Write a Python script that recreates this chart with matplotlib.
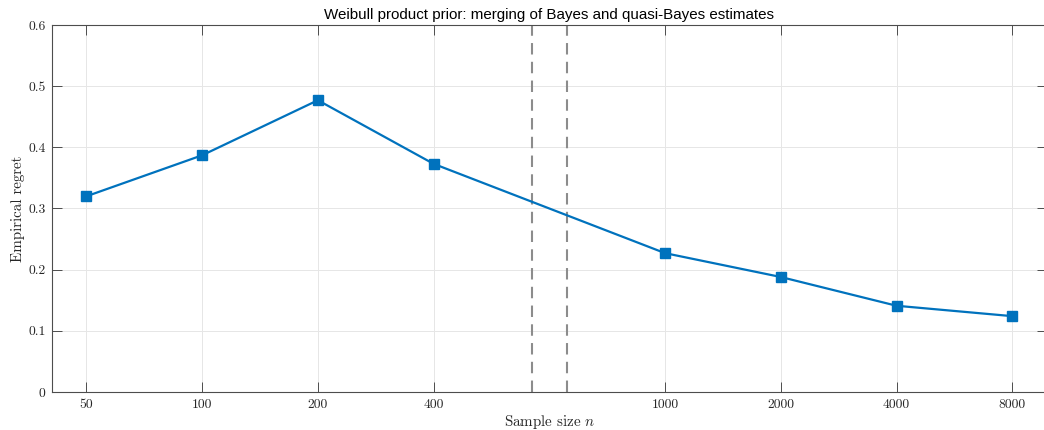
import numpy as np
import matplotlib
matplotlib.use("Agg")
import matplotlib.pyplot as plt

# Sample sizes and empirical regret
sample_sizes = [50, 100, 200, 400, 1000, 2000, 4000, 8000]
regret = [0.320, 0.387, 0.477, 0.373, 0.227, 0.188, 0.141, 0.124]

# Equally spaced positions with a gap between 400 and 1000 (broken axis)
positions = np.array([1, 2, 3, 4, 6, 7, 8, 9])
break_marks = [4.85, 5.15]

plt.rcParams['mathtext.fontset'] = 'cm'
plt.rcParams['axes.formatter.use_mathtext'] = True
serif = 'cmr10'
axis_col = '#4d4d4d'
text_col = '#262626'

fig = plt.figure(figsize=(10.44, 4.30), dpi=100)
# the right edge of the box falls just outside the picture, as in the original
ax = fig.add_axes([51.7 / 1044, 38 / 430, (1047 - 51.7) / 1044, (392 - 25) / 430])

ax.plot(positions, regret, color='#0072BD', linewidth=1.6, marker='s',
        markersize=6.5, markerfacecolor='#0072BD', markeredgecolor='#0072BD', zorder=3)

for xb in break_marks:
    ax.axvline(xb, color='#8c8c8c', linestyle=(0, (5.5, 3.5)), linewidth=1.5, zorder=2)

ax.set_xlim(0.7, 9.3)
ax.set_ylim(0, 0.6)
ax.set_xticks(positions)
ax.set_xticklabels([str(n) for n in sample_sizes], fontfamily=serif, fontsize=9.8)
ax.set_yticks(np.arange(0, 0.61, 0.1))
ax.set_yticklabels(['0'] + ['%.1f' % v for v in np.arange(0.1, 0.61, 0.1)],
                   fontfamily=serif, fontsize=9.8)

ax.grid(True, color='#e6e6e6', linewidth=0.7)
ax.set_axisbelow(True)
ax.tick_params(direction='in', length=7, width=0.7, colors=axis_col,
               top=True, right=True, labelcolor=text_col)
ax.tick_params(axis='y', pad=4.5)
ax.tick_params(axis='x', pad=5)
for sp in ax.spines.values():
    sp.set_color(axis_col)
    sp.set_linewidth(0.8)

ax.set_xlabel(r'Sample size $n$', fontfamily=serif, fontsize=10.8, color=text_col, labelpad=1.5)
ax.set_ylabel('Empirical regret', fontfamily=serif, fontsize=10.8, color=text_col, labelpad=2.5)
ax.set_title('Weibull product prior: merging of Bayes and quasi-Bayes estimates',
             fontfamily='Liberation Sans', fontsize=10.9, color='black', pad=4)

plt.savefig('out.png', dpi=100)
